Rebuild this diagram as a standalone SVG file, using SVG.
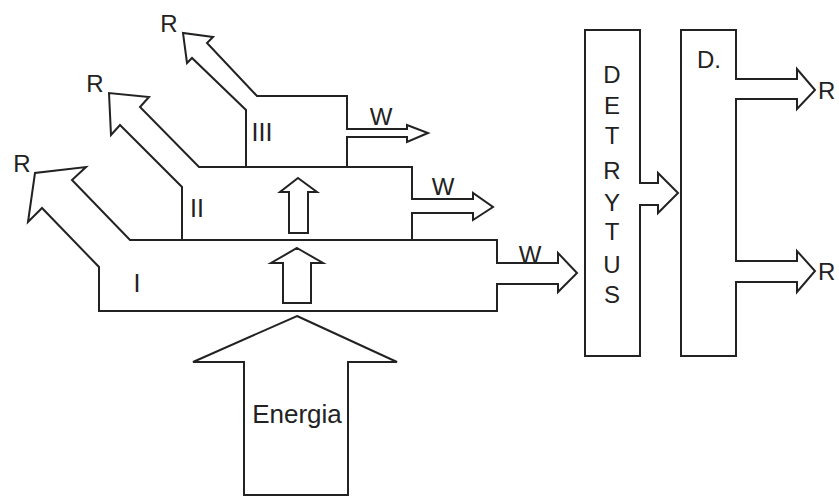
<svg xmlns="http://www.w3.org/2000/svg" width="839" height="498" viewBox="0 0 839 498">
<style>
.o{fill:none;stroke:#222;stroke-width:2;stroke-linejoin:miter}
.f{fill:#fff;stroke:#222;stroke-width:2}
text{font-family:"Liberation Sans",Arial,sans-serif;fill:#222;font-size:24px}
.c{text-anchor:middle}
.n{font-size:25px}
</style>
<rect width="839" height="498" fill="#fff"/>
<g id="level1">
<path class="o" d="M99,267 L99,311 L497,311 L497,284 L558,284 L558,292 L577,273 L558,253 L558,263 L497,263 L497,240 L130,240 L72,180 L86,167 L35,173 L28,222 L42,208 Z"/>
<text x="137" y="292" class="c n">I</text>
<text x="22" y="172" class="c">R</text>
<text x="530" y="263" class="c">W</text>
</g>
<g id="level2">
<path class="o" d="M182,240 L182,187 L120,125 L111,135 L109,93 L149,97 L140,107 L199,167 L412,167 L412,199 L473,199 L473,193 L493,207 L473,220 L473,213 L412,213 L412,240"/>
<text x="197" y="217" class="c n">II</text>
<text x="95" y="92" class="c">R</text>
<text x="443" y="195" class="c">W</text>
</g>
<g id="level3">
<path class="o" d="M246,167 L246,110 L192,58 L187,63 L183,33 L213,37 L207,43 L257,96 L347,96 L347,129 L407,129 L407,125 L428,133 L407,142 L407,137 L347,137 L347,167"/>
<text x="262" y="141" class="c n">III</text>
<text x="169" y="32" class="c">R</text>
<text x="381" y="125" class="c">W</text>
</g>
<g id="energia">
<polygon class="f" points="297,316 397,362 348,362 348,495 244,495 244,362 193,362"/>
<text x="297" y="423" class="c" style="font-size:26px">Energia</text>
</g>
<g id="detrytus">
<path class="o" d="M640,183 L640,30 L585,30 L585,356 L640,356 L640,205 L658,205 L658,213 L678,193 L658,173 L658,183 Z"/>
<g class="c" style="font-size:23px">
<text x="612" y="83">D</text>
<text x="612" y="114">E</text>
<text x="612" y="144">T</text>
<text x="612" y="179">R</text>
<text x="612" y="211">Y</text>
<text x="612" y="240">T</text>
<text x="612" y="273">U</text>
<text x="612" y="303">S</text>
</g>
</g>
<g id="decomposers">
<path class="o" d="M736,79 L736,30 L681,30 L681,356 L736,356 L736,282 L797,282 L797,292 L815,271 L797,251 L797,261 L736,261 L736,99 L797,99 L797,109 L815,90 L797,69 L797,79 Z"/>
<text x="709" y="68" class="c">D.</text>
<text x="818" y="99">R</text>
<text x="818" y="280">R</text>
</g>
<g id="connectors">
<polygon class="f" points="297,248 323,263 311,263 311,303 283,303 283,263 271,263"/>
<polygon class="f" points="298,178 317,192 308,192 308,233 289,233 289,192 280,192"/>
</g>
</svg>
